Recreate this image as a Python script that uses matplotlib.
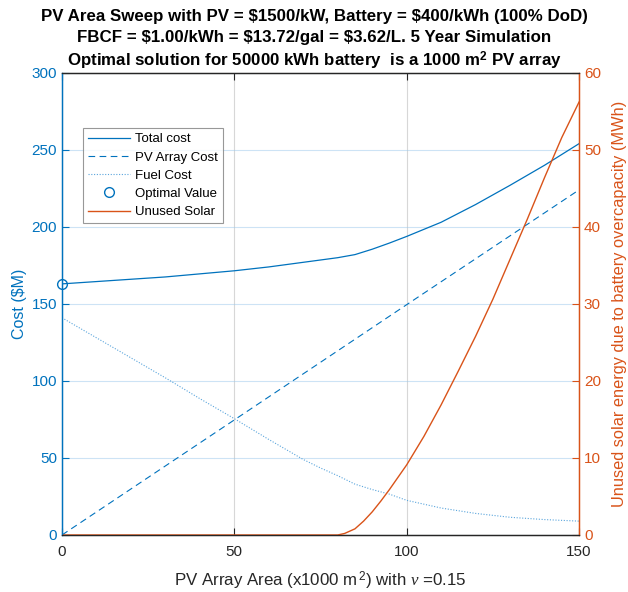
import numpy as np
import matplotlib
matplotlib.use("Agg")
import matplotlib.pyplot as plt

plt.rcParams["font.family"] = ["Liberation Sans", "DejaVu Sans"]
plt.rcParams["mathtext.fontset"] = "custom"
plt.rcParams["mathtext.rm"] = "Liberation Sans"
plt.rcParams["mathtext.bf"] = "Liberation Sans:bold"
plt.rcParams["mathtext.it"] = "Liberation Serif:italic"

BLUE = "#0072BD"
ORANGE = "#D95319"
DARK = "#262626"

# PV array area (x1000 m^2)
area = [0, 10, 20, 30, 40, 50, 60, 70, 75, 80, 85, 90, 95, 100, 110, 120, 130, 140, 150]
total_cost = [163, 164.5, 166, 167.5, 169.5, 171.5, 174, 177, 178.5, 180, 182,
              185.5, 189.5, 193.8, 203, 214.5, 227, 240, 254]
fuel_cost = [141, 128, 115, 102, 88.5, 75.5, 62, 49, 43.5, 38.5, 33, 29.5, 26.5,
             22.5, 17.5, 14, 11.5, 10, 9]
pv_area = [0, 50, 100, 150]
pv_cost = [0, 74.7, 149.5, 224]
solar_area = [0, 80, 82, 85, 87.5, 90, 92.5, 95, 100, 105, 110, 115, 120, 125, 130,
              135, 140, 145, 150]
unused_solar = [0, 0, 0.2, 0.8, 1.8, 3.0, 4.4, 5.9, 9.1, 12.8, 16.9, 21.3, 25.8, 30.6,
                35.8, 41.0, 46.4, 51.6, 56.2]
opt_area = [0]
opt_cost = [163]

fig = plt.figure(figsize=(6.28, 5.92), dpi=100)
ax = fig.add_axes([0.0987, 0.0963, 0.8233, 0.7807])
ax2 = ax.twinx()

l1, = ax.plot(area, total_cost, color=BLUE, lw=0.9, label="Total cost")
l2, = ax.plot(pv_area, pv_cost, color=BLUE, lw=0.8, ls=(0, (6, 4)), label="PV Array Cost")
l3, = ax.plot(area, fuel_cost, color="#5aa5dc", lw=0.8, ls=(0, (1, 1.5)), label="Fuel Cost")
l4, = ax.plot(opt_area, opt_cost, ls="none", marker="o", ms=7, mfc="none",
              mec=BLUE, mew=1.0, label="Optimal Value", clip_on=False, zorder=5)
l5, = ax2.plot(solar_area, unused_solar, color=ORANGE, lw=1.0, label="Unused Solar")

ax.set_xlim(0, 150)
ax.set_ylim(0, 300)
ax2.set_ylim(0, 60)
ax.set_xticks([0, 50, 100, 150])
ax.set_yticks(range(0, 301, 50))
ax2.set_yticks(range(0, 61, 10))

ax.grid(True, axis="x", color="#b0b0b0", lw=0.8, alpha=0.5)
ax.grid(True, axis="y", color="#9cc9ec", lw=0.8, alpha=0.5)
ax.set_axisbelow(True)

for a in (ax, ax2):
    a.spines["top"].set_color(DARK)
    a.spines["bottom"].set_color(DARK)
    a.spines["left"].set_color(BLUE)
    a.spines["right"].set_color(ORANGE)
    for s in a.spines.values():
        s.set_linewidth(0.9)

ax.tick_params(axis="x", direction="in", length=5, colors=DARK, labelsize=11,
               top=True, pad=7)
ax.tick_params(axis="y", direction="in", length=5, colors=BLUE, labelsize=11,
               right=False)
ax2.tick_params(axis="y", direction="in", length=5, colors=ORANGE, labelsize=11)

ax.set_ylabel("Cost ($M)", color=BLUE, fontsize=11.5, labelpad=3)
ax2.set_ylabel("Unused solar energy due to battery overcapacity (MWh)",
               color=ORANGE, fontsize=11.8, labelpad=8)
ax.set_xlabel(r"PV Array Area (x1000 m$^{\,2}$) with $\nu$ =0.15", color=DARK,
              fontsize=12.2, labelpad=8)

fig.text(0.5, 0.972, "PV Area Sweep with PV = \\$1500/kW, Battery = \\$400/kWh (100% DoD)",
         ha="center", va="center", fontsize=12.2, fontweight="bold")
fig.text(0.5, 0.936, "FBCF = \\$1.00/kWh = \\$13.72/gal = \\$3.62/L. 5 Year Simulation",
         ha="center", va="center", fontsize=12.2, fontweight="bold")
fig.text(0.5, 0.897, r"Optimal solution for 50000 kWh battery  is a 1000 m$^{\mathbf{2}}$ PV array",
         ha="center", va="center", fontsize=12.2, fontweight="bold")

leg = ax2.legend(handles=[l1, l2, l3, l4, l5], loc="upper left",
                 bbox_to_anchor=(0.027, 0.895), fontsize=9.5, frameon=True,
                 fancybox=False, edgecolor="#7f7f7f", handlelength=3.2,
                 borderpad=0.4, labelspacing=0.45, handletextpad=0.4)
leg.get_frame().set_linewidth(0.8)

fig.savefig("out.png", dpi=100)
